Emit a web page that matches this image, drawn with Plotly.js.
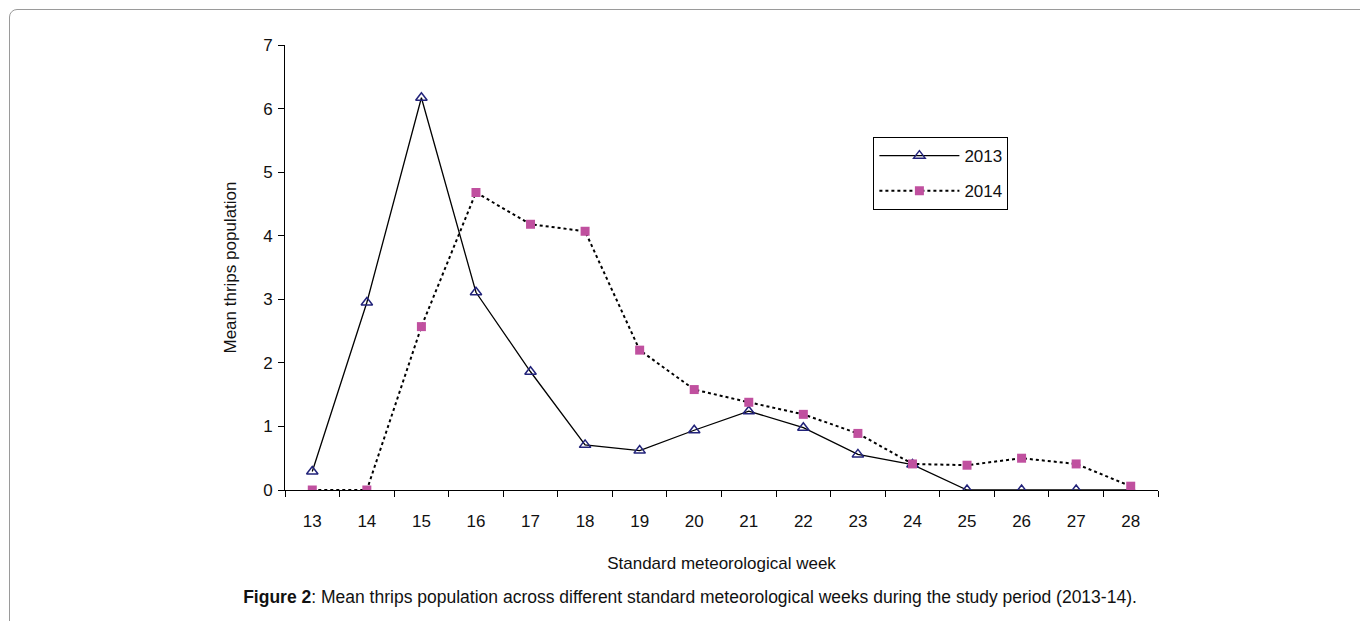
<!DOCTYPE html>
<html>
<head>
<meta charset="utf-8">
<script src="https://cdn.plot.ly/plotly-3.0.1.min.js"></script>
<style>
  html, body { margin: 0; padding: 0; background: #fff; width: 1360px; height: 621px; overflow: hidden; }
  #frame { position: absolute; left: 9px; top: 9px; width: 1400px; height: 700px; border: 1px solid #9a9a9a; border-radius: 8px; box-sizing: border-box; }
  #chart { position: absolute; left: 0; top: 0; width: 1360px; height: 621px; }
  #caption { position: absolute; left: 0; width: 1380px; top: 587px; text-align: center; font-family: "Liberation Sans", Arial, sans-serif; font-size: 17.5px; color: #111; }
</style>
</head>
<body>
<div id="frame"></div>
<div id="chart"></div>
<div id="caption"><b>Figure 2</b>: Mean thrips population across different standard meteorological weeks during the study period (2013-14).</div>
<script>
const weeks = ["13","14","15","16","17","18","19","20","21","22","23","24","25","26","27","28"];
const pop2013 = [0.29, 2.95, 6.17, 3.11, 1.86, 0.71, 0.62, 0.94, 1.24, 0.98, 0.56, 0.40, 0, 0, 0, 0];
const pop2014 = [0, 0, 2.57, 4.68, 4.18, 4.07, 2.20, 1.58, 1.38, 1.19, 0.89, 0.41, 0.39, 0.50, 0.41, 0.06];
const yTicks = [0, 1, 2, 3, 4, 5, 6, 7];

const font = "Liberation Sans, Arial, sans-serif";
const fs = 17;

const traces = [
  {
    x: weeks, y: pop2013, name: "2013", type: "scatter", mode: "lines+markers",
    line: { color: "#000000", width: 1.3 },
    marker: { symbol: "triangle-up-open", size: 10, color: "#22237a", line: { width: 1.5, color: "#22237a" } },
    legendgroup: "a"
  },
  {
    x: weeks, y: pop2014, name: "2014", type: "scatter", mode: "lines+markers",
    line: { color: "#000000", width: 2, dash: "dot" },
    marker: { symbol: "square", size: 9, color: "#c0509f", line: { width: 0 } },
    legendgroup: "b"
  }
];

const layout = {
  width: 1360, height: 621,
  margin: { l: 285, r: 202, t: 45, b: 131 },
  paper_bgcolor: "rgba(0,0,0,0)",
  plot_bgcolor: "rgba(0,0,0,0)",
  font: { family: font, size: fs, color: "#111" },
  showlegend: true,
  legend: {
    x: 0.674, y: 0.793, xanchor: "left", yanchor: "top",
    bordercolor: "#000", borderwidth: 1, bgcolor: "#fff",
    font: { family: font, size: fs, color: "#111" },
    traceorder: "grouped", tracegroupgap: 10,
    itemwidth: 80
  },
  xaxis: {
    type: "category",
    categoryorder: "array", categoryarray: weeks,
    range: [-0.5, 15.5],
    tickson: "boundaries",
    ticks: "outside", ticklen: 6, tickcolor: "#000", tickwidth: 1,
    showline: true, linecolor: "#000", linewidth: 1,
    showgrid: false, zeroline: false,
    ticklabelstandoff: 16,
    tickfont: { family: font, size: fs, color: "#111" },
    title: { text: "Standard meteorological week", font: { family: font, size: fs, color: "#111" }, standoff: 26 },
    fixedrange: true
  },
  yaxis: {
    range: [0, 7],
    tickvals: yTicks,
    ticks: "outside", ticklen: 6, tickcolor: "#000", tickwidth: 1,
    showline: true, linecolor: "#000", linewidth: 1,
    showgrid: false, zeroline: false,
    ticklabelstandoff: 2,
    tickfont: { family: font, size: fs, color: "#111" },
    title: { text: "Mean thrips population", font: { family: font, size: fs, color: "#111" }, standoff: 22 },
    fixedrange: true
  }
};

Plotly.newPlot("chart", traces, layout, { displayModeBar: false, staticPlot: true });
</script>
</body>
</html>
